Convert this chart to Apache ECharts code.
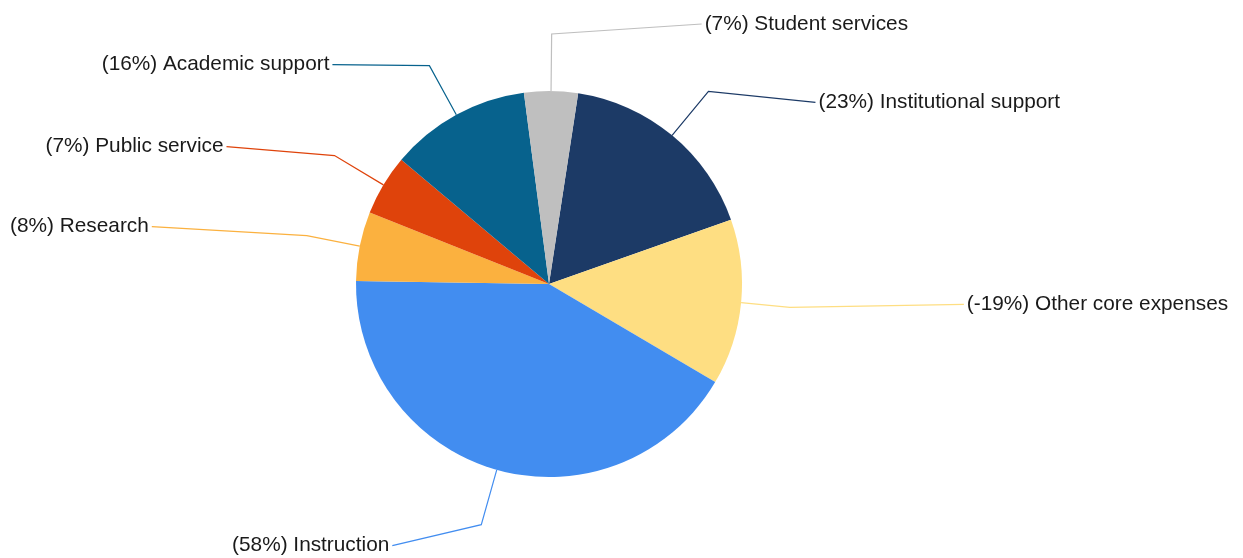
<!DOCTYPE html>
<html>
<head>
    <meta charset="utf-8">
    <script src="https://cdn.jsdelivr.net/npm/echarts@6/dist/echarts.min.js"></script>
    <style>
        body, html {
            margin: 0;
            height: 100%;
            background: #fff;
        }
        #main {
            width: 1243px;
            height: 558px;
        }
    </style>
</head>
<body>
<div id="main"></div>

<script>
    // data, clockwise from the top
    var categories = ['Institutional support', 'Other core expenses', 'Instruction', 'Research',
        'Public service', 'Academic support', 'Student services'];
    var values = [17.2, 13.9, 41.8, 5.8, 5.1, 11.8, 4.5];
    var changes = ['23%', '-19%', '58%', '8%', '7%', '16%', '7%'];

    // styling per slice
    var colors = ['#1c3a66', '#fede82', '#428df0', '#fbb13f', '#df430b', '#07628d', '#bfbfbf'];
    var lineLen = [57, 49, 57, 54, 57, 56, 57];
    var lineLen2 = [107, 174, 89, 155, 108, 97, 150];
    var lineTilt = [11, -3, 21, -9, -9, -1, -10];

    var myChart = echarts.init(document.getElementById('main'));

    var seriesData = categories.map(function (name, i) {
        return {
            name: name,
            value: values[i],
            itemStyle: {color: colors[i]},
            labelLine: {length: lineLen[i], length2: lineLen2[i]}
        };
    });

    option = {
        animation: false,
        series: [{
            type: 'pie',
            center: [549, 284],
            radius: 193,
            startAngle: 81.3,
            clockwise: true,
            avoidLabelOverlap: false,
            label: {
                show: true,
                formatter: function (p) {
                    return '(' + changes[p.dataIndex] + ') ' + p.name;
                },
                color: '#1a1a1a',
                fontFamily: 'Liberation Sans, Arial, sans-serif',
                fontSize: 20.8,
                distanceToLabelLine: 3
            },
            labelLine: {
                show: true,
                smooth: false,
                lineStyle: {width: 1.2}
            },
            labelLayout: function (params) {
                var dy = lineTilt[params.dataIndex];
                var pts = params.labelLinePoints;
                if (!pts) return {dy: dy};
                return {
                    dy: dy,
                    labelLinePoints: [
                        [pts[0][0], pts[0][1]],
                        [pts[1][0], pts[1][1]],
                        [pts[2][0], pts[2][1] + dy]
                    ]
                };
            },
            emphasis: {disabled: true},
            data: seriesData
        }]
    };

    myChart.setOption(option);
    window.onresize = myChart.resize;
</script>
</body>
</html>
